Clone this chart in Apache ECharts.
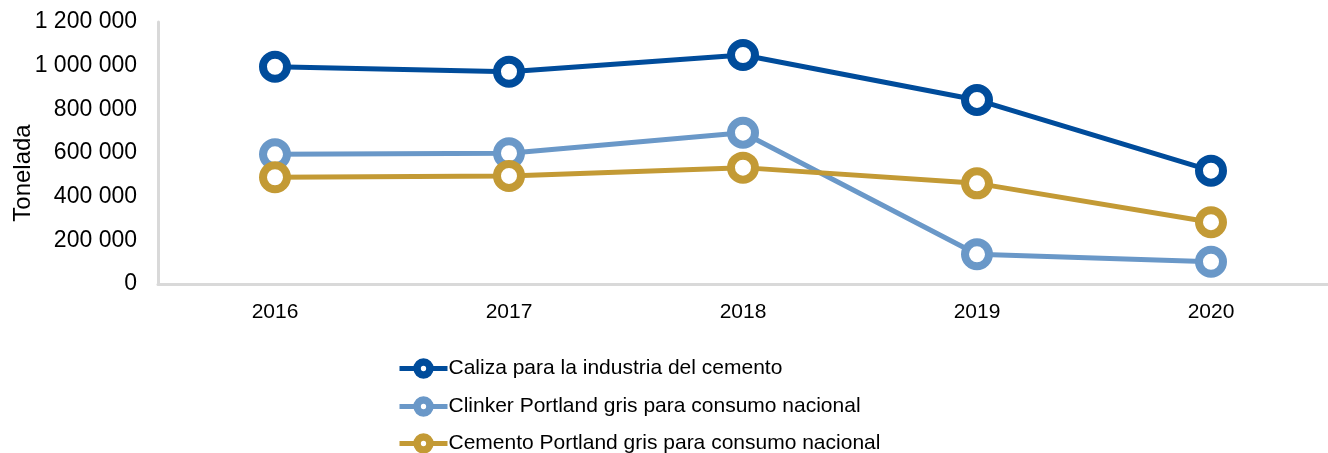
<!DOCTYPE html>
<html>
<head>
<meta charset="utf-8">
<script src="https://cdn.jsdelivr.net/npm/echarts@6/dist/echarts.min.js"></script>
<style>
  html, body { margin: 0; padding: 0; background: #fff; }
  #chart { width: 1328px; height: 453px; }
</style>
</head>
<body>
<div id="chart"></div>
<script>
// categories (years)
const years = ['2016', '2017', '2018', '2019', '2020'];

// series values, tonnes
const caliza = [995000, 972000, 1049000, 843000, 519000];
const clinker = [594000, 599000, 693000, 136000, 102000];
const cemento = [489000, 495000, 533000, 461000, 283000];

const seriesNames = [
    'Caliza para la industria del cemento',
    'Clinker Portland gris para consumo nacional',
    'Cemento Portland gris para consumo nacional'
];
const colors = ['#004C9B', '#6A98C8', '#C39A35'];
const legendTops = [358, 396, 433];

function fmt(v) {
    return String(v).replace(/\B(?=(\d{3})+(?!\d))/g, ' ');
}

function makeSeries(name, data, color) {
    return {
        name: name,
        type: 'line',
        data: data,
        symbol: 'circle',
        symbolSize: 24,
        showAllSymbol: true,
        lineStyle: { color: color, width: 5 },
        itemStyle: { color: '#fff', borderColor: color, borderWidth: 8 },
        emphasis: { disabled: true }
    };
}

// one legend per row so nothing wraps into columns
const legends = seriesNames.map(function (n, i) {
    return {
        left: 397,
        top: legendTops[i],
        padding: 0,
        itemWidth: 48,
        itemHeight: 16,
        itemGap: 0,
        textStyle: { fontSize: 21, color: '#000', padding: [0, 0, 0, -4] },
        data: [{
            name: n,
            itemStyle: { color: '#fff', borderColor: colors[i], borderWidth: 7.5 },
            lineStyle: { color: colors[i], width: 5 }
        }]
    };
});

const chart = echarts.init(document.getElementById('chart'));
chart.setOption({
    animation: false,
    textStyle: { fontFamily: 'Liberation Sans, Arial, sans-serif' },
    grid: { left: 158, right: 0, top: 22, bottom: 169, outerBoundsMode: 'none' },
    legend: legends,
    xAxis: {
        type: 'category',
        data: years,
        boundaryGap: true,
        axisLine: { lineStyle: { color: '#D9D9D9', width: 3 } },
        axisTick: { show: false },
        axisLabel: { fontSize: 21, color: '#000', margin: 18 }
    },
    yAxis: {
        type: 'value',
        min: 0,
        max: 1200000,
        interval: 200000,
        name: 'Tonelada',
        nameLocation: 'middle',
        nameGap: 123,
        nameMoveOverlap: false,
        nameTextStyle: { fontSize: 24, color: '#000', padding: [0, 40, 0, 0] },
        axisLine: { show: true, lineStyle: { color: '#D9D9D9', width: 3 } },
        axisTick: { show: false },
        splitLine: { show: false },
        axisLabel: { fontSize: 23, color: '#000', margin: 21, formatter: fmt }
    },
    series: [
        makeSeries(seriesNames[0], caliza, colors[0]),
        makeSeries(seriesNames[1], clinker, colors[1]),
        makeSeries(seriesNames[2], cemento, colors[2])
    ]
});
window.addEventListener('resize', function () { chart.resize(); });
</script>
</body>
</html>
